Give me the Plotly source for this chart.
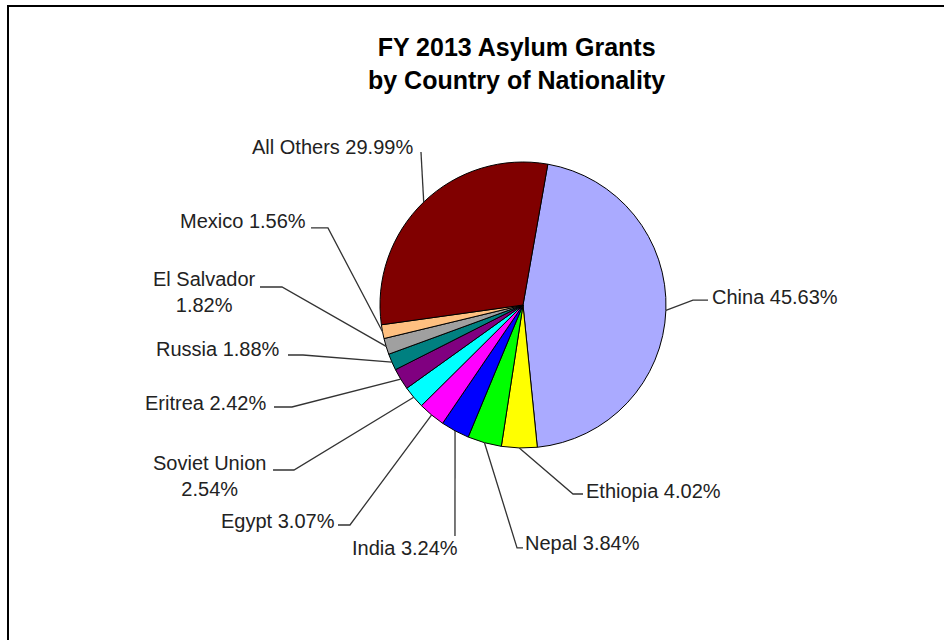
import math
import plotly.graph_objects as go

# FY 2013 asylum grants, share by country of nationality (percent)
countries = ["China", "Ethiopia", "Nepal", "India", "Egypt", "Soviet Union",
             "Eritrea", "Russia", "El Salvador", "Mexico", "All Others"]
shares = [45.63, 4.02, 3.84, 3.24, 3.07, 2.54, 2.42, 1.88, 1.82, 1.56, 29.99]
slice_colors = ["#AAAAFF", "#FFFF00", "#00FF00", "#0000FF", "#FF00FF", "#00FFFF",
                "#800080", "#008080", "#A0A0A0", "#FFC080", "#800000"]

W, H = 952, 640
CX, CY, R = 523, 305, 143     # pie centre and radius in pixels
ROTATION = 10                 # first slice starts 10 degrees clockwise of 12 o'clock


def px(x):
    return x / W


def py(y):
    return 1 - y / H


# label placement: anchor point, anchor side, and elbow points of the leader line
label_layout = {
    "China":        dict(x=710, y=297, xanchor="left",   elbow=[(693, 300), (708, 300)]),
    "Ethiopia":     dict(x=584, y=491, xanchor="left",   elbow=[(573, 494), (583, 494)]),
    "Nepal":        dict(x=523, y=543, xanchor="left",   elbow=[(517, 548), (523, 548)]),
    "India":        dict(x=405, y=548, xanchor="center", elbow=[(455, 536)]),
    "Egypt":        dict(x=337, y=521, xanchor="right",  elbow=[(350, 525), (338, 525)]),
    "Soviet Union": dict(x=268, y=476, xanchor="right",  elbow=[(294, 470), (273, 470)]),
    "Eritrea":      dict(x=268, y=403, xanchor="right",  elbow=[(292, 407), (274, 407)]),
    "Russia":       dict(x=282, y=349, xanchor="right",  elbow=[(303, 355), (288, 355)]),
    "El Salvador":  dict(x=258, y=292, xanchor="right",  elbow=[(282, 287), (260, 287)]),
    "Mexico":       dict(x=308, y=221, xanchor="right",  elbow=[(328, 228), (311, 228)]),
    "All Others":   dict(x=415, y=147, xanchor="right",  elbow=[(421, 152)]),
}
two_line = {"El Salvador", "Soviet Union"}

fig = go.Figure()
fig.add_trace(go.Pie(
    labels=countries,
    values=shares,
    sort=False,
    direction="clockwise",
    rotation=ROTATION,
    marker=dict(colors=slice_colors, line=dict(color="#000000", width=1)),
    textinfo="none",
    hoverinfo="label+percent",
    showlegend=False,
    domain=dict(x=[px(CX - R), px(CX + R)], y=[py(CY + R), py(CY - R)]),
))

shapes = []
annotations = []
total = sum(shares)
cum = 0.0
for name, v in zip(countries, shares):
    mid = math.radians(ROTATION + 360.0 * (cum + v / 2) / total)
    cum += v
    ex = CX + R * math.sin(mid)
    ey = CY - R * math.cos(mid)
    lay = label_layout[name]
    pts = [(ex, ey)] + lay["elbow"]
    path = "M {:.4f},{:.4f} ".format(px(pts[0][0]), py(pts[0][1]))
    path += " ".join("L {:.4f},{:.4f}".format(px(a), py(b)) for a, b in pts[1:])
    shapes.append(dict(type="path", path=path, xref="paper", yref="paper",
                       line=dict(color="#333333", width=1.3)))
    sep = "<br>" if name in two_line else " "
    annotations.append(dict(
        text=f"{name}{sep}{v:.2f}%",
        x=px(lay["x"]), y=py(lay["y"]), xref="paper", yref="paper",
        xanchor=lay["xanchor"], yanchor="middle", align="center",
        showarrow=False,
        font=dict(family="Liberation Sans, Arial, sans-serif", size=20, color="#222222"),
    ))

# chart title
annotations.append(dict(
    text="<b>FY 2013 Asylum Grants<br>by Country of Nationality</b>",
    x=px(516), y=py(64), xref="paper", yref="paper",
    xanchor="center", yanchor="middle", align="center", showarrow=False,
    font=dict(family="Liberation Sans, Arial, sans-serif", size=25, color="#000000"),
))

# frame lines along the top and left edges
shapes.append(dict(type="line", xref="paper", yref="paper",
                   x0=px(7), y0=py(6), x1=px(944), y1=py(6),
                   line=dict(color="#000000", width=2)))
shapes.append(dict(type="line", xref="paper", yref="paper",
                   x0=px(8), y0=py(6), x1=px(8), y1=py(640),
                   line=dict(color="#000000", width=2)))

fig.update_layout(
    width=W, height=H,
    margin=dict(l=0, r=0, t=0, b=0),
    paper_bgcolor="#FFFFFF",
    plot_bgcolor="#FFFFFF",
    shapes=shapes,
    annotations=annotations,
)

fig.write_html("out.html")
